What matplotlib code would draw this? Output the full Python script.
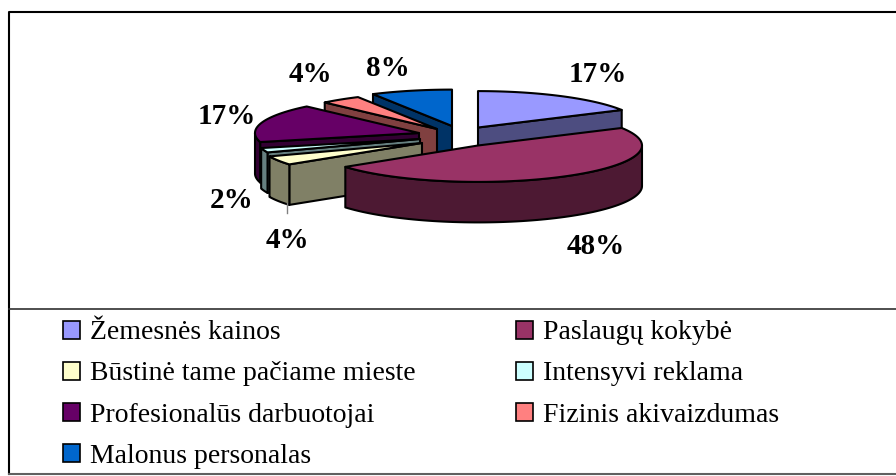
#!/usr/bin/env python
import numpy as np
import matplotlib
matplotlib.use('Agg')
import matplotlib.pyplot as plt
from matplotlib.patches import Patch, Polygon

categories = ['Žemesnės kainos', 'Paslaugų kokybė', 'Būstinė tame pačiame mieste',
              'Intensyvi reklama', 'Profesionalūs darbuotojai', 'Fizinis akivaizdumas',
              'Malonus personalas']
values = [17, 48, 4, 2, 17, 4, 8]

top_colors = ['#9999FF', '#993366', '#FFFFCC', '#CCFFFF', '#660066', '#FF8080', '#0066CC']
side_colors = ['#4D4D80', '#4D1933', '#808066', '#668080', '#330033', '#804040', '#003366']

# slice apex in picture pixels, one per slice (the explosion)
apex_x = [478, 478, 422, 420, 419, 437, 452]
apex_y = [127.5, 145.5, 143, 139, 133, 129, 126]
# label anchors
label_x = [598, 596, 287, 232, 227, 310, 388]
label_y = [74, 247, 240, 200, 116, 74, 69]

RX, RY, DEPTH = 164, 36.4, 40.5
# back slices first, the big front one last
draw_order = [0, 6, 5, 4, 3, 2, 1]


def pt(cx, cy, deg):
    # angle clockwise from 12 o'clock
    r = np.radians(deg)
    return cx + RX * np.sin(r), cy - RY * np.cos(r)


def draw_slice(ax, cx, cy, a0, a1, top, side):
    kw = dict(edgecolor='black', linewidth=1.5, joinstyle='round')
    # cut faces, only those turned to the viewer
    if 180 < a0 < 360:
        x, y = pt(cx, cy, a0)
        ax.add_patch(Polygon([(cx, cy), (x, y), (x, y + DEPTH), (cx, cy + DEPTH)], facecolor=side, **kw))
    if 0 < a1 < 180:
        x, y = pt(cx, cy, a1)
        ax.add_patch(Polygon([(cx, cy), (x, y), (x, y + DEPTH), (cx, cy + DEPTH)], facecolor=side, **kw))
    # outer wall
    lo, hi = max(a0, 90), min(a1, 270)
    if lo < hi:
        t = np.linspace(lo, hi, 80)
        xs, ys = pt(cx, cy, t)
        wall = np.r_[np.c_[xs, ys], np.c_[xs, ys + DEPTH][::-1]]
        ax.add_patch(Polygon(wall, facecolor=side, **kw))
    # top face
    t = np.linspace(a0, a1, 80)
    xs, ys = pt(cx, cy, t)
    ax.add_patch(Polygon(np.r_[[(cx, cy)], np.c_[xs, ys]], facecolor=top, **kw))


fig = plt.figure(figsize=(8.96, 4.76), dpi=100)
ax = fig.add_axes([0, 0, 1, 1])
ax.set_xlim(0, 896)
ax.set_ylim(476, 0)
ax.axis('off')

# chart frame and legend rule, the right side is cut off in the picture
ax.plot([896, 8.5, 8.5], [11.5, 11.5, 474], color='black', lw=1.5)
ax.plot([8.5, 896], [474, 474], color='#606060', lw=1.5)
ax.plot([8.5, 896], [308.5, 308.5], color='#303030', lw=1.2)

edges = np.cumsum([0] + values) / sum(values) * 360
for i in draw_order:
    draw_slice(ax, apex_x[i], apex_y[i], edges[i], edges[i + 1], top_colors[i], side_colors[i])

# leader line of the 4% label
ax.plot([287, 287], [203, 213], color='#808080', lw=1)

for v, x, y in zip(values, label_x, label_y):
    ax.text(x, y, f'{v}%', family='Liberation Serif', weight='bold', fontsize=21, ha='center', va='center')

# matplotlib fills legend columns first
order = [0, 2, 4, 6, 1, 3, 5]
handles = [Patch(facecolor=top_colors[i], edgecolor='black', linewidth=1.2, label=categories[i]) for i in order]
ax.legend(handles=handles, ncols=2, loc='upper left', bbox_to_anchor=(0.0703, 0.327),
          frameon=False, prop={'family': 'Liberation Serif', 'size': 20},
          handlelength=0.62, handleheight=0.62, handletextpad=0.36,
          labelspacing=0.58, columnspacing=3.6, borderpad=0, borderaxespad=0)

fig.savefig('out.png', dpi=100)
